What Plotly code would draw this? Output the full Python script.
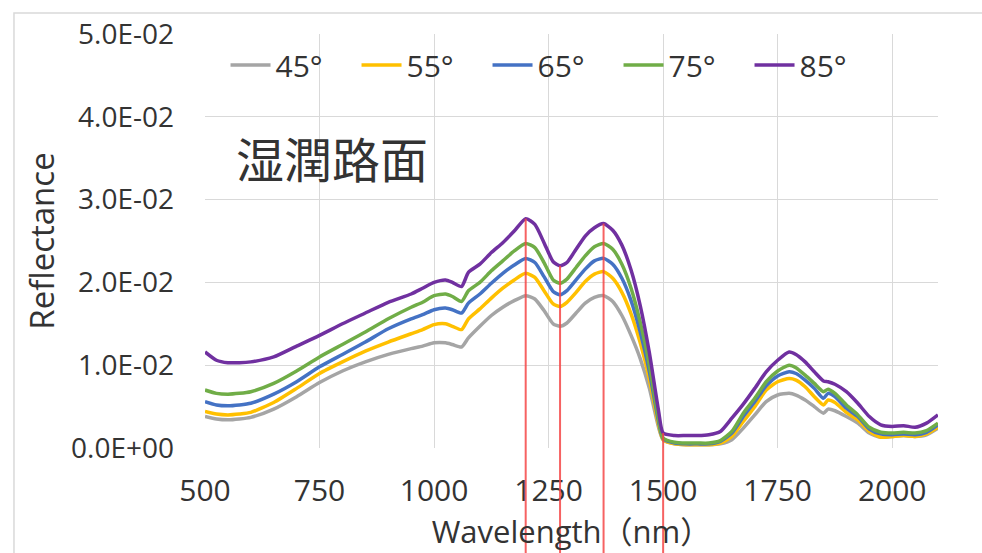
import numpy as np
import plotly.graph_objects as go

wavelength = [500, 525, 550, 575, 600, 650, 700, 750, 800, 850, 900, 950, 975, 1000, 1025, 1040,
              1060, 1075, 1100, 1125, 1150, 1175, 1200, 1220, 1240, 1260, 1275, 1290, 1310, 1330,
              1350, 1370, 1390, 1410, 1430, 1450, 1470, 1490, 1500, 1525, 1550, 1575, 1600, 1625,
              1650, 1675, 1700, 1725, 1750, 1775, 1790, 1810, 1830, 1850, 1860, 1875, 1900, 1925,
              1950, 1975, 2000, 2025, 2050, 2075, 2100]

r85 = [0.0116, 0.0106, 0.0103, 0.0103, 0.0104, 0.0110, 0.0123, 0.0136, 0.0150, 0.0163, 0.0176,
       0.0186, 0.0193, 0.0200, 0.0203, 0.0200, 0.0195, 0.0212, 0.0222, 0.0236, 0.0248, 0.0262,
       0.0277, 0.0270, 0.0248, 0.0225, 0.0220, 0.0224, 0.0240, 0.0256, 0.0266, 0.0271, 0.0263,
       0.0245, 0.0215, 0.0172, 0.0115, 0.0045, 0.0018, 0.0015, 0.0015, 0.0015, 0.0016, 0.0020,
       0.0036, 0.0053, 0.0072, 0.0092, 0.0106, 0.0116, 0.0113, 0.0104, 0.0092, 0.0081, 0.0080,
       0.0077, 0.0068, 0.0054, 0.0038, 0.0028, 0.0026, 0.0027, 0.0025, 0.0030, 0.0040]

r75 = [0.0070, 0.0066, 0.0065, 0.0066, 0.0068, 0.0078, 0.0093, 0.0110, 0.0125, 0.0140, 0.0156,
       0.0170, 0.0176, 0.0184, 0.0186, 0.0183, 0.0177, 0.0190, 0.0200, 0.0214, 0.0226, 0.0238,
       0.0247, 0.0242, 0.0224, 0.0203, 0.0199, 0.0204, 0.0218, 0.0232, 0.0243, 0.0247, 0.0240,
       0.0222, 0.0193, 0.0152, 0.0100, 0.0035, 0.0012, 0.0007, 0.0006, 0.0006, 0.0006, 0.0009,
       0.0020, 0.0042, 0.0060, 0.0080, 0.0093, 0.0100, 0.0097, 0.0088, 0.0078, 0.0068, 0.0071,
       0.0066, 0.0052, 0.0040, 0.0025, 0.0019, 0.0018, 0.0019, 0.0018, 0.0021, 0.0030]

r65 = [0.0056, 0.0052, 0.0051, 0.0052, 0.0054, 0.0065, 0.0080, 0.0098, 0.0113, 0.0128, 0.0144,
       0.0156, 0.0161, 0.0167, 0.0169, 0.0167, 0.0163, 0.0175, 0.0186, 0.0199, 0.0211, 0.0221,
       0.0229, 0.0224, 0.0207, 0.0189, 0.0185, 0.0190, 0.0203, 0.0216, 0.0226, 0.0229, 0.0222,
       0.0205, 0.0178, 0.0140, 0.0092, 0.0032, 0.0011, 0.0006, 0.0005, 0.0005, 0.0005, 0.0008,
       0.0018, 0.0038, 0.0056, 0.0075, 0.0087, 0.0092, 0.0090, 0.0082, 0.0072, 0.0060, 0.0066,
       0.0062, 0.0048, 0.0038, 0.0023, 0.0017, 0.0016, 0.0017, 0.0016, 0.0019, 0.0028]

r55 = [0.0044, 0.0041, 0.0040, 0.0041, 0.0043, 0.0055, 0.0072, 0.0090, 0.0104, 0.0117, 0.0128,
       0.0138, 0.0143, 0.0149, 0.0150, 0.0147, 0.0143, 0.0156, 0.0168, 0.0181, 0.0193, 0.0203,
       0.0211, 0.0206, 0.0190, 0.0174, 0.0171, 0.0176, 0.0188, 0.0201, 0.0210, 0.0213, 0.0205,
       0.0188, 0.0162, 0.0127, 0.0083, 0.0028, 0.0010, 0.0005, 0.0004, 0.0004, 0.0004, 0.0006,
       0.0014, 0.0032, 0.0050, 0.0070, 0.0080, 0.0084, 0.0082, 0.0074, 0.0062, 0.0052, 0.0058,
       0.0055, 0.0043, 0.0034, 0.0020, 0.0013, 0.0014, 0.0015, 0.0014, 0.0017, 0.0025]

r45 = [0.0038, 0.0035, 0.0034, 0.0035, 0.0037, 0.0047, 0.0062, 0.0079, 0.0093, 0.0104, 0.0113,
       0.0120, 0.0123, 0.0127, 0.0127, 0.0125, 0.0122, 0.0133, 0.0147, 0.0160, 0.0170, 0.0178,
       0.0184, 0.0180, 0.0166, 0.0150, 0.0147, 0.0151, 0.0163, 0.0175, 0.0182, 0.0184, 0.0177,
       0.0160, 0.0136, 0.0108, 0.0072, 0.0025, 0.0010, 0.0005, 0.0004, 0.0004, 0.0004, 0.0005,
       0.0010, 0.0024, 0.0040, 0.0056, 0.0064, 0.0066, 0.0064, 0.0058, 0.0050, 0.0042, 0.0047,
       0.0045, 0.0038, 0.0030, 0.0018, 0.0013, 0.0014, 0.0015, 0.0014, 0.0016, 0.0024]

series_names = ["45°", "55°", "65°", "75°", "85°"]
series_values = [r45, r55, r65, r75, r85]
series_colors = ["#A5A5A5", "#FFC000", "#4472C4", "#70AD47", "#7030A0"]

x_ticks = [500, 750, 1000, 1250, 1500, 1750, 2000]
y_ticks = [0.0, 0.01, 0.02, 0.03, 0.04, 0.05]
y_ticktext = ["0.0E+00", "1.0E-02", "2.0E-02", "3.0E-02", "4.0E-02", "5.0E-02"]
marker_wavelengths = [1200, 1275, 1370, 1500]

FONT = "Open Sans, Noto Sans CJK JP, sans-serif"
TXT = "#333333"
GRID = "#D9D9D9"

fig = go.Figure()
for name, vals, col in zip(series_names, series_values, series_colors):
    fig.add_trace(go.Scatter(x=wavelength, y=vals, mode="lines", name=name,
                             line=dict(color=col, width=3.5, shape="spline", smoothing=0.6)))

shapes = []
# red marker lines: from the 85° curve down through the axis
for wl in marker_wavelengths:
    top = float(np.interp(wl, wavelength, r85))
    shapes.append(dict(type="line", xref="x", yref="y", x0=wl, x1=wl, y0=0, y1=top,
                       line=dict(color="rgba(245,70,70,0.85)", width=2)))
    shapes.append(dict(type="line", xref="x", yref="paper", x0=wl, x1=wl, y0=-0.4, y1=0,
                       line=dict(color="rgba(245,70,70,0.85)", width=2)))
# chart-area border
shapes.append(dict(type="rect", xref="paper", yref="paper", x0=-0.2606, x1=1.3, y0=-0.5, y1=1.0507,
                   line=dict(color=GRID, width=1.5), fillcolor="rgba(0,0,0,0)", layer="below"))

fig.update_layout(
    width=982, height=553,
    margin=dict(l=205, r=44, t=34, b=105),
    paper_bgcolor="white", plot_bgcolor="white",
    font=dict(family=FONT, color=TXT, size=26),
    shapes=shapes,
    showlegend=True,
    legend=dict(orientation="h", x=0.028, y=0.925, xanchor="left", yanchor="middle",
                font=dict(size=30, color=TXT), bgcolor="rgba(0,0,0,0)",
                entrywidth=76, entrywidthmode="pixels", itemwidth=40,
                traceorder="normal"),
    annotations=[dict(text="湿潤路面", xref="paper", yref="paper",
                      x=(332 - 205) / 733, y=(448 - 157) / 414, xanchor="center", yanchor="middle",
                      showarrow=False, font=dict(family="Noto Sans CJK JP", size=48, color="#333333"))],
    xaxis=dict(range=[500, 2100], tickvals=x_ticks, showgrid=True, gridcolor=GRID, gridwidth=1.3,
               zeroline=False, showline=False, ticks="", ticklabelstandoff=22,
               tickfont=dict(size=30, color=TXT),
               title=dict(text="Wavelength（nm）", font=dict(size=31, color=TXT), standoff=2)),
    yaxis=dict(range=[0, 0.05], tickvals=y_ticks, ticktext=y_ticktext, showgrid=True,
               gridcolor=GRID, gridwidth=1.3, zeroline=False, showline=False, ticks="",
               ticklabelstandoff=30, tickfont=dict(size=28, color=TXT),
               title=dict(text="Reflectance", font=dict(size=33, color=TXT), standoff=6)),
)

fig.write_html("out.html")
